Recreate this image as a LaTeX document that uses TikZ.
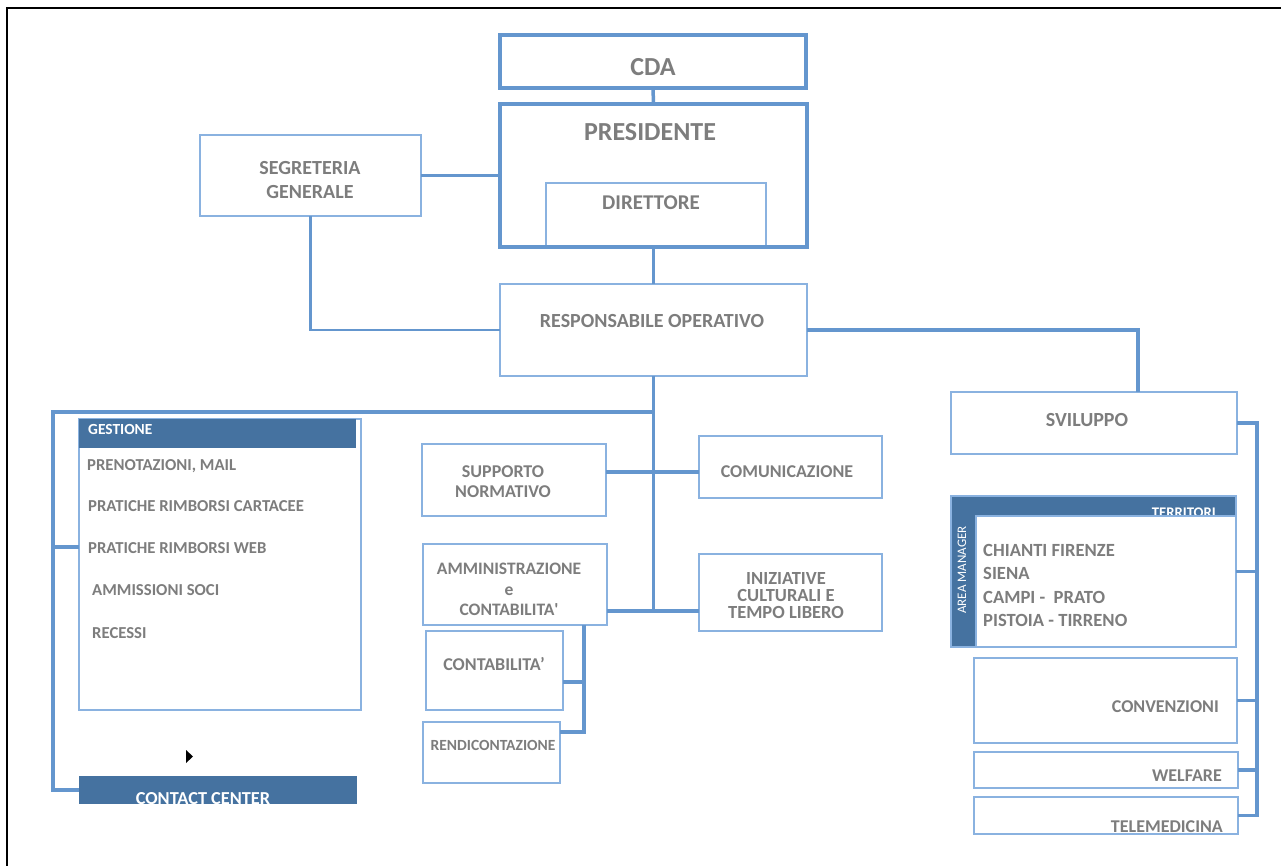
\documentclass[tikz,border=0pt]{standalone}
\usepackage{fontspec}
\setmainfont{Carlito}
\definecolor{linec}{RGB}{100,150,206}
\definecolor{boxc}{RGB}{138,178,224}
\definecolor{hdrc}{RGB}{69,114,160}
\definecolor{txtc}{RGB}{125,125,125}
\newcommand\fsz[2]{\fontsize{#1}{#2}\selectfont}
\begin{document}
\begin{tikzpicture}[x=1pt,y=-1pt,
  box/.style={draw=boxc,line width=1.6pt,fill=white,inner sep=0,outer sep=0,anchor=north west},
  tbox/.style={draw=linec,line width=3.5pt,inner sep=0,outer sep=0,anchor=north west},
  hdr/.style={fill=hdrc,inner sep=0,outer sep=0,anchor=north west},
  conn/.style={draw=linec,line width=3.5pt},
  lbl/.style 2 args={text=txtc,inner sep=0,align=center,font=\bfseries\fsz{#1}{#2}},
  wlbl/.style={text=white,inner sep=0,font=\bfseries\fsz{#1}{#1}},
]
\useasboundingbox (0,0) rectangle (1281,866);
\fill[white] (0,0) rectangle (1281,866);
% frame
\draw[line width=2pt] (1281,8) -- (7,8) -- (7,866);

% top boxes
\node[tbox,minimum width=306pt,minimum height=53pt] (cda) at (500,35) {};
\node[box,minimum width=220pt,minimum height=64pt] (dir) at (546,183) {};
\node[tbox,minimum width=307pt,minimum height=143pt] (pres) at (500,104) {};
\node[box,minimum width=221pt,minimum height=81pt] (seg) at (200,135) {};
\node[box,minimum width=307pt,minimum height=92pt] (resp) at (500,284) {};

\node[lbl={26}{30}] (tcda) at (653,67) {CDA};
\node[lbl={26}{30}] (tpres) at (650,132) {PRESIDENTE};
\node[lbl={21}{24}] (tdir) at (651,203) {DIRETTORE};
\node[lbl={20}{23.5}] (tseg) at (310,180) {SEGRETERIA\\GENERALE};
\node[lbl={20}{23}] (tresp) at (652,321) {RESPONSABILE OPERATIVO};

% middle boxes
\node[box,minimum width=184pt,minimum height=72pt] (supp) at (422,444) {};
\node[box,minimum width=183pt,minimum height=62pt] (com) at (699,436) {};
\node[box,minimum width=184pt,minimum height=81pt] (admin) at (423,544) {};
\node[box,minimum width=183pt,minimum height=77pt] (ini) at (699,554) {};
\node[box,minimum width=137pt,minimum height=79pt] (cont) at (426,631) {};
\node[box,minimum width=137pt,minimum height=61pt] (rend) at (423,722) {};

\node[lbl={18}{20}] (tsupp) at (503,482) {SUPPORTO\\NORMATIVO};
\node[lbl={18}{20}] (tcom) at (787,472) {COMUNICAZIONE};
\node[lbl={17.5}{20.5}] (tadmin) at (509,589.5) {AMMINISTRAZIONE\\e\\CONTABILITA\textquotesingle};
\node[lbl={18.5}{17}] (tini) at (786,596) {INIZIATIVE\\CULTURALI E\\TEMPO LIBERO};
\node[lbl={18}{20}] (tcont) at (494,664) {CONTABILITA’};
\node[lbl={15.5}{18}] (trend) at (493,745) {RENDICONTAZIONE};

% gestione
\node[box,minimum width=282pt,minimum height=291pt] (gest) at (79,419) {};
\node[hdr,minimum width=277pt,minimum height=29pt] (gesth) at (79,419) {};
\node[wlbl=15.4,anchor=west] (tgest) at (88,429.5) {GESTIONE};
\node[lbl={16.7}{20},anchor=west] (g1) at (87,466) {PRENOTAZIONI, MAIL};
\node[lbl={16.7}{20},anchor=west] (g2) at (88,506.5) {PRATICHE RIMBORSI CARTACEE};
\node[lbl={16.7}{20},anchor=west] (g3) at (88,548) {PRATICHE RIMBORSI WEB};
\node[lbl={16.7}{20},anchor=west] (g4) at (92,590) {AMMISSIONI SOCI};
\node[lbl={16.7}{20},anchor=west] (g5) at (92,633.5) {RECESSI};
\fill[black] (186,750) -- (193,756.5) -- (186,763) -- cycle;
\node[hdr,minimum width=278pt,minimum height=28pt] (cc) at (79,776) {};
\begin{scope}
\clip (79,776) rectangle (357,804);
\node[wlbl=18.3] (tcc) at (203,798.5) {CONTACT CENTER};
\end{scope}

% right column
\node[box,minimum width=286pt,minimum height=62pt] (svil) at (951,392) {};
\node[lbl={20}{23}] (tsvil) at (1087,420) {SVILUPPO};
\node[hdr,draw=boxc,line width=1.2pt,minimum width=285pt,minimum height=151pt] (terr) at (951,496) {};
\node[wlbl=14.7,anchor=base east] (tterr) at (1216,517) {TERRITORI};
\node[box,minimum width=260pt,minimum height=131pt] (terrin) at (976,516) {};
\node[text=white,inner sep=0,font=\fsz{13}{13},rotate=90] (tam) at (962,570) {AREA MANAGER};
\node[lbl={18.6}{20},anchor=west] (t1) at (983,550) {CHIANTI FIRENZE};
\node[lbl={18.6}{20},anchor=west] (t2) at (983,573) {SIENA};
\node[lbl={18.6}{20},anchor=west] (t3) at (983,597) {CAMPI -\ \ PRATO};
\node[lbl={18.6}{20},anchor=west] (t4) at (983,620) {PISTOIA - TIRRENO};
\node[box,minimum width=263pt,minimum height=85pt] (conv) at (974,658) {};
\node[box,minimum width=264pt,minimum height=36pt] (welf) at (974,752) {};
\node[box,minimum width=264pt,minimum height=37pt] (tele) at (974,797) {};
\node[lbl={18}{20},anchor=east] (tconv) at (1219,707) {CONVENZIONI};
\node[lbl={18}{20},anchor=east] (twelf) at (1222,776) {WELFARE};
\node[lbl={18}{20},anchor=east] (ttele) at (1223,827) {TELEMEDICINA};

% connectors
\coordinate (cbus) at (653.5,611);
\coordinate (lb) at (53,412);
\coordinate (gj) at (53,547);
\coordinate (sj) at (0,472);
\coordinate (sb) at (584,732);
\coordinate (cj) at (584,682);
\coordinate (rb) at (1257,0);
\draw[conn] (cda.south) -- (pres.north);
\draw[conn] (seg.east) -- (seg.east -| pres.west);
\draw[conn] (pres.south) -- (resp.north);
\draw[conn,line width=2.8pt] (seg.south) |- (resp.west);
\draw[conn] (resp.east) -| ([xshift=187pt]svil.north west);
\draw[conn] (resp.south) -- (cbus);
\draw[conn] (resp.south |- lb) -- (lb) |- (cc.west);
\draw[conn] (gj) -- (gj -| gest.west);
\draw[conn] (supp.east |- sj) -- (com.west |- sj);
\draw[conn] (admin.east |- cbus) -- (ini.west |- cbus);
\draw[conn] (admin.south -| sb) -- (sb) -- (sb -| rend.east);
\draw[conn] (cj) -- (cj -| cont.east);
\draw[conn] (svil.east) -| (rb |- tele.east) -- (tele.east);
\draw[conn] (terr.east) -- (terr.east -| rb);
\draw[conn] (conv.east) -- (conv.east -| rb);
\draw[conn] (welf.east) -- (welf.east -| rb);
\end{tikzpicture}
\end{document}
